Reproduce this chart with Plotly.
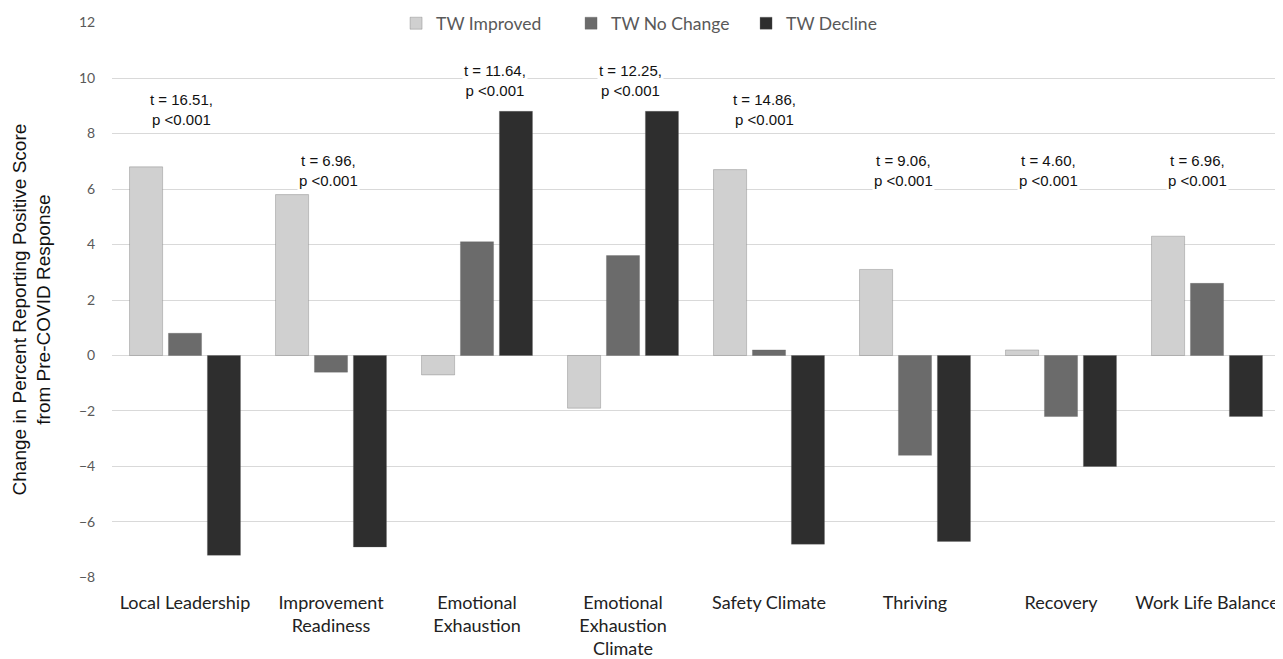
import plotly.graph_objects as go

categories = ["Local Leadership", "Improvement<br>Readiness", "Emotional<br>Exhaustion",
              "Emotional<br>Exhaustion<br>Climate", "Safety Climate", "Thriving",
              "Recovery", "Work Life Balance"]
improved = [6.8, 5.8, -0.7, -1.9, 6.7, 3.1, 0.2, 4.3]
no_change = [0.8, -0.6, 4.1, 3.6, 0.2, -3.6, -2.2, 2.6]
decline = [-7.2, -6.9, 8.8, 8.8, -6.8, -6.7, -4.0, -2.2]
stats = ["t = 16.51,<br>p <0.001", "t = 6.96,<br>p <0.001", "t = 11.64,<br>p <0.001",
         "t = 12.25,<br>p <0.001", "t = 14.86,<br>p <0.001", "t = 9.06,<br>p <0.001",
         "t = 4.60,<br>p <0.001", "t = 6.96,<br>p <0.001"]
stat_y = [8.85, 6.68, 9.9, 9.9, 8.85, 6.68, 6.68, 6.68]
stat_dx = [-0.027, -0.014, 0.123, 0.048, -0.034, -0.082, -0.089, -0.062]

x = list(range(len(categories)))

fig = go.Figure()
for name, vals, col in [("TW Improved", improved, "#d0d0d0"),
                        ("TW No Change", no_change, "#6b6b6b"),
                        ("TW Decline", decline, "#2e2e2e")]:
    fig.add_trace(go.Bar(x=x, y=vals, name=name,
                         marker=dict(color=col, line=dict(color="rgba(90,90,90,0.5)", width=0.6))))

for i, (s, yv, dx) in enumerate(zip(stats, stat_y, stat_dx)):
    fig.add_annotation(x=i + dx, y=yv, text=s, showarrow=False, bgcolor="white",
                       font=dict(family="Liberation Sans, Arial", size=15, color="#111"))

fig.add_annotation(xref="paper", yref="paper", x=-0.0685, y=0.483, xanchor="center", yanchor="middle",
                   text="Change in Percent Reporting Positive Score<br>from Pre-COVID Response",
                   textangle=-90, showarrow=False,
                   font=dict(family="Liberation Sans, Arial", size=19, color="#111"))

fig.update_layout(
    width=1275, height=651,
    paper_bgcolor="white", plot_bgcolor="white",
    margin=dict(l=104, r=3, t=14, b=81, autoexpand=False),
    barmode="group", bargap=0.2, bargroupgap=0.15,
    legend=dict(orientation="h", x=0.2432, xanchor="left", y=1.03, yanchor="top",
                bgcolor="white", font=dict(family="Lato, Open Sans", size=17.5, color="#595959"),
                traceorder="normal", itemwidth=30, entrywidth=130),
    xaxis=dict(tickvals=x, ticktext=categories, range=[-0.5, 7.5], showgrid=False,
               showline=False, ticks="outside", ticklen=8, tickcolor="white", automargin=False,
               tickfont=dict(family="Lato, Open Sans", size=18, color="#222")),
    yaxis=dict(range=[-8.02, 12.02], tickvals=list(range(-8, 13, 2)), showgrid=True,
               gridcolor="#d9d9d9", gridwidth=1.2, automargin=False,
               zeroline=True, zerolinecolor="#d9d9d9", zerolinewidth=1.2,
               ticks="outside", ticklen=13, tickcolor="white",
               tickfont=dict(family="Lato, Open Sans", size=14, color="#595959")),
)

fig.write_html("out.html")
